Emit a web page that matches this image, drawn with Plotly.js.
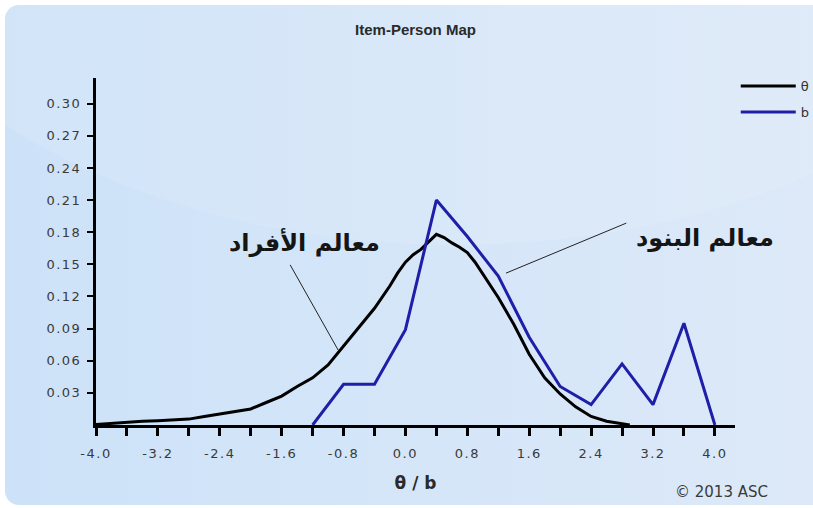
<!DOCTYPE html>
<html>
<head>
<meta charset="utf-8">
<script src="https://cdn.plot.ly/plotly-3.0.1.min.js"></script>
<style>
  html, body { margin: 0; padding: 0; background: #ffffff; width: 813px; height: 508px; overflow: hidden; }
  .panel {
    position: absolute; left: 5px; top: 5px; width: 840px; height: 500px;
    border-radius: 14px;
    background: linear-gradient(90deg, #cde2f8 0%, #d5e6f8 50%, #dde9f8 100%);
  }
  .gloss {
    position: absolute; left: 5px; top: 5px; width: 840px; height: 500px;
    border-radius: 14px; overflow: hidden;
  }
  .gloss::before {
    content: ""; position: absolute; left: -200px; top: -620px; width: 1300px; height: 860px;
    border-radius: 50%; background: rgba(255,255,255,0.10);
  }
  #chart { position: absolute; left: 0; top: 0; width: 813px; height: 508px; }
  .xtick text, .ytick text { letter-spacing: 1.5px; }
</style>
</head>
<body>
<div class="panel"></div>
<div class="gloss"></div>
<div id="chart"></div>
<script>
// Person measures (theta) density
const thetaX = [-4.0, -3.8, -3.6, -3.4, -3.2, -3.0, -2.8, -2.6, -2.4, -2.2, -2.0, -1.8, -1.6, -1.4,
                -1.2, -1.0, -0.8, -0.6, -0.4, -0.2, -0.1, 0.0, 0.1, 0.2, 0.3, 0.4, 0.5, 0.6, 0.7,
                0.8, 0.9, 1.0, 1.2, 1.4, 1.6, 1.8, 2.0, 2.2, 2.4, 2.6, 2.8, 2.9];
const thetaY = [0.0005, 0.0015, 0.003, 0.0035, 0.004, 0.005, 0.0055, 0.008, 0.0105, 0.013, 0.015, 0.021, 0.027, 0.036,
                0.044, 0.056, 0.074, 0.091, 0.109, 0.130, 0.142, 0.152, 0.159, 0.164, 0.171, 0.178, 0.175, 0.170, 0.166,
                0.161, 0.152, 0.141, 0.119, 0.094, 0.066, 0.044, 0.029, 0.017, 0.008, 0.0035, 0.001, 0.0];

// Item difficulties (b) distribution
const itemX = [-1.2, -0.8, -0.4, 0.0, 0.4, 0.8, 1.2, 1.6, 2.0, 2.4, 2.8, 3.2, 3.6, 4.0];
const itemY = [0.0, 0.038, 0.038, 0.089, 0.210, 0.176, 0.139, 0.082, 0.036, 0.019, 0.057, 0.019, 0.095, 0.0];

// Axis ticks
const yTicks = [0.03, 0.06, 0.09, 0.12, 0.15, 0.18, 0.21, 0.24, 0.27, 0.30];
const xTicks = [-4.0, -3.2, -2.4, -1.6, -0.8, 0.0, 0.8, 1.6, 2.4, 3.2, 4.0];
const xTickText = ['-4.0', '-3.2', '-2.4', '-1.6', '-0.8', '0.0', '0.8', '1.6', '2.4', '3.2', '4.0'];

const personLabel = 'معالم الأفراد';
const itemLabel = 'معالم البنود';

const traces = [
  {
    x: thetaX, y: thetaY, name: 'θ', type: 'scatter', mode: 'lines',
    line: { color: '#000000', width: 3 }, legendgroup: 'a'
  },
  {
    x: itemX, y: itemY, name: 'b', type: 'scatter', mode: 'lines',
    line: { color: '#1e1ea8', width: 3 }, legendgroup: 'b'
  }
];

const tickFont = { family: 'DejaVu Sans, Verdana, sans-serif', size: 13, color: '#3a3a3a' };
const arFont = { family: 'DejaVu Sans, Noto Sans, sans-serif', size: 24, color: '#151515', weight: 'bold' };

const layout = {
  width: 813, height: 508,
  paper_bgcolor: 'rgba(0,0,0,0)', plot_bgcolor: 'rgba(0,0,0,0)',
  margin: { l: 96, r: 78, t: 78, b: 83, autoexpand: false },
  title: {
    text: 'Item-Person Map',
    font: { family: 'Liberation Sans Narrow, Liberation Sans, Arial, sans-serif', size: 15, color: '#2a2a2a', weight: 'bold' },
    x: 0.5, xref: 'paper', xanchor: 'center', y: 0.941, yref: 'container', yanchor: 'middle'
  },
  showlegend: true,
  legend: {
    xref: 'container', yref: 'container',
    x: 0.905, xanchor: 'left', y: 0.86, yanchor: 'top',
    bgcolor: 'rgba(0,0,0,0)', borderwidth: 0,
    font: { family: 'DejaVu Sans, sans-serif', size: 13, color: '#333333' },
    tracegroupgap: 6, itemwidth: 55
  },
  xaxis: {
    range: [-4.0, 4.26], showgrid: false, zeroline: false, automargin: false,
    showline: true, linecolor: '#000000', linewidth: 3,
    ticks: 'outside', ticklen: 8, tickwidth: 3, tickcolor: '#000000',
    tickvals: xTicks, ticktext: xTickText, tickfont: tickFont, ticklabelstandoff: 6,
    minor: { dtick: 0.4, tick0: -4.0, ticks: 'outside', ticklen: 8, tickwidth: 3, tickcolor: '#000000', showgrid: false },
    title: { text: 'θ / b', font: { family: 'DejaVu Sans, sans-serif', size: 17, color: '#2a2a2a', weight: 'bold' }, standoff: 18 }
  },
  yaxis: {
    range: [0, 0.324], showgrid: false, zeroline: false, automargin: false,
    showline: true, linecolor: '#000000', linewidth: 3,
    ticks: 'outside', ticklen: 6, tickwidth: 2, tickcolor: '#000000',
    tickvals: yTicks, tickformat: '.2f', tickfont: tickFont, ticklabelstandoff: 3
  },
  shapes: [
    { type: 'line', xref: 'x', yref: 'y', x0: -1.49, y0: 0.1495, x1: -0.87, y1: 0.070,
      line: { color: '#222222', width: 1 } },
    { type: 'line', xref: 'x', yref: 'y', x0: 1.30, y0: 0.1418, x1: 2.855, y1: 0.1885,
      line: { color: '#222222', width: 1 } }
  ],
  annotations: [
    { text: personLabel, xref: 'x', yref: 'y', x: -1.30, y: 0.170, showarrow: false,
      font: arFont, xanchor: 'center', yanchor: 'middle' },
    { text: itemLabel, xref: 'x', yref: 'y', x: 3.87, y: 0.175, showarrow: false,
      font: arFont, xanchor: 'center', yanchor: 'middle' },
    { text: '© 2013 ASC', xref: 'paper', yref: 'paper', x: 1.055, y: -0.193, showarrow: false,
      xanchor: 'right', yanchor: 'middle',
      font: { family: 'DejaVu Sans, sans-serif', size: 15, color: '#3a3a3a' } }
  ]
};

Plotly.newPlot('chart', traces, layout, { displayModeBar: false, staticPlot: true });
</script>
</body>
</html>
